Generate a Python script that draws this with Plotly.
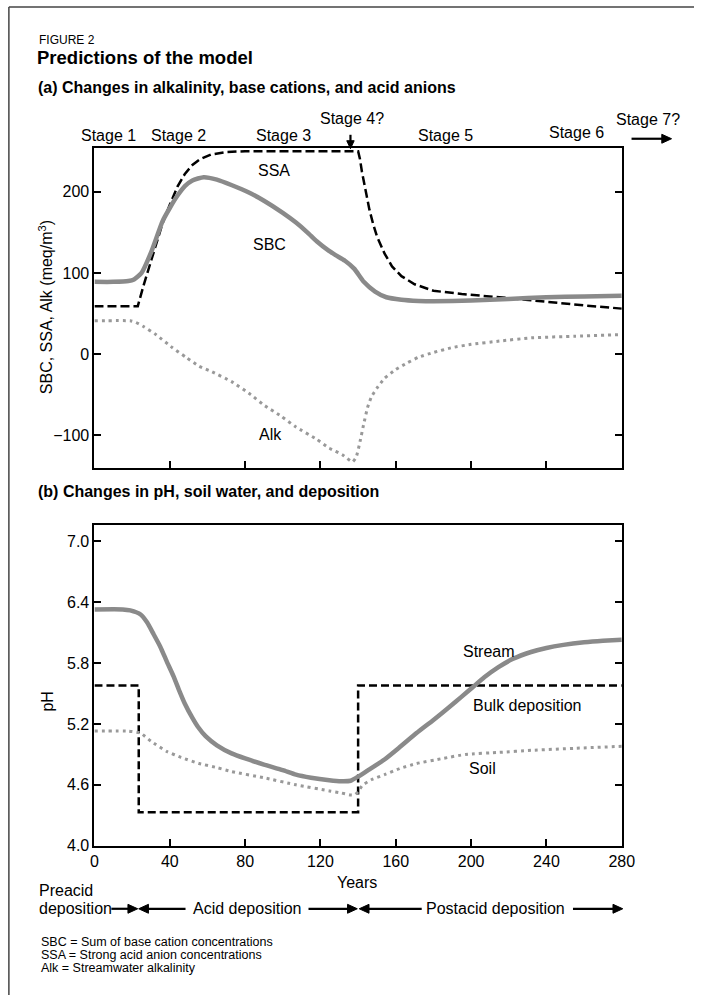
import plotly.graph_objects as go

# ---------------- data ----------------
years_sbc = [0, 10, 18, 21, 25, 30, 33, 36, 40, 44, 48, 52, 58, 65, 73, 82, 90, 100, 107,
             113, 118, 124, 128, 133, 138, 143, 149, 155, 163, 172, 180, 200, 220, 240, 260, 280]
sbc = [89, 89, 90, 92, 100, 125, 144, 163, 180, 195, 207, 214, 218, 215, 208, 199, 189, 174, 162,
       150, 139, 128, 122, 115, 105, 89, 77, 70, 67, 65.5, 65, 66, 68, 70, 71, 72]

years_ssa = [0, 23, 26, 30, 33, 36, 40, 44, 48, 52, 56, 62, 70, 80, 140, 141, 142, 144, 146, 148,
             150, 154, 158, 163, 170, 180, 195, 215, 240, 260, 280]
ssa = [59, 59, 84, 115, 136, 160, 184, 206, 222, 233, 240, 246, 249, 250, 250, 240, 225, 200, 178, 160,
       145, 124, 108, 96, 86, 78, 74, 70, 64, 60, 56]

years_alk = [0, 19, 22, 26, 32.6, 41.3, 48.6, 55.6, 62.5, 72.8, 83, 90, 98.8, 107, 118, 124.7, 131.6,
             137, 139, 141, 143, 145, 147, 150, 154, 160, 166, 172, 180, 190, 200, 215, 232, 255, 280]
alk = [41, 41, 39, 34, 24, 8, -4, -15, -22, -34, -50, -63, -76, -90, -105, -116, -124,
       -133, -127, -108, -86, -66, -53, -42, -30, -19, -11, -4, 2, 8, 12, 16, 20, 22, 24]

years_stream = [0, 15, 19, 24.5, 28, 31.4, 35, 38.3, 42, 45, 48, 52, 55, 59, 65, 72.8, 80, 90, 100,
                107, 115, 124.7, 131, 136, 140, 145, 154, 162, 171, 180, 188.6, 195, 200.7, 207,
                214.5, 222, 231.8, 240, 249, 260, 270, 280]
stream = [6.33, 6.33, 6.32, 6.28, 6.2, 6.085, 5.96, 5.82, 5.67, 5.53, 5.40, 5.26, 5.17, 5.08, 4.99,
          4.91, 4.86, 4.80, 4.745, 4.70, 4.67, 4.645, 4.635, 4.64, 4.68, 4.74, 4.85, 4.97, 5.11, 5.24,
          5.37, 5.47, 5.56, 5.66, 5.76, 5.84, 5.91, 5.95, 5.98, 6.005, 6.02, 6.03]

years_soil = [0, 18, 24.5, 30, 38.3, 46, 55.6, 65, 72.8, 90, 107, 124.7, 131, 136, 138, 140, 142,
              147, 154, 162, 171, 185, 197, 215, 232, 255, 280]
soil = [5.13, 5.13, 5.11, 5.03, 4.93, 4.87, 4.81, 4.77, 4.73, 4.67, 4.60, 4.54, 4.52, 4.50, 4.50,
        4.53, 4.59, 4.65, 4.70, 4.76, 4.81, 4.86, 4.90, 4.92, 4.94, 4.96, 4.98]

years_bulk = [0, 23.5, 23.5, 140, 140, 280]
bulk = [5.58, 5.58, 4.33, 4.33, 5.58, 5.58]

year_ticks = [0, 40, 80, 120, 160, 200, 240, 280]
conc_ticks = [-100, 0, 100, 200]
ph_ticks = [4.0, 4.6, 5.2, 5.8, 6.4, 7.0]

stage_labels = ["Stage 1", "Stage 2", "Stage 3", "Stage 4?", "Stage 5", "Stage 6", "Stage 7?"]

# ---------------- layout helpers ----------------
W, H = 707, 1004
FONT = "Liberation Sans, Arial, Helvetica, sans-serif"


def px(x):
    return x / W


def py(y):
    return 1 - y / H


GRAY = "#8a8a8a"
DOTGRAY = "#999999"

fig = go.Figure()

# top panel
fig.add_trace(go.Scatter(x=years_ssa, y=ssa, mode="lines", xaxis="x", yaxis="y",
                         line=dict(color="black", width=2.5, dash="9px,4px"), hoverinfo="skip"))
fig.add_trace(go.Scatter(x=years_sbc, y=sbc, mode="lines", xaxis="x", yaxis="y",
                         line=dict(color=GRAY, width=4.5, shape="spline", smoothing=0.5), hoverinfo="skip"))
fig.add_trace(go.Scatter(x=years_alk, y=alk, mode="lines", xaxis="x", yaxis="y",
                         line=dict(color=DOTGRAY, width=3, dash="3px,4px", shape="spline", smoothing=0.4),
                         hoverinfo="skip"))

# bottom panel
fig.add_trace(go.Scatter(x=years_bulk, y=bulk, mode="lines", xaxis="x2", yaxis="y2",
                         line=dict(color="black", width=2.5, dash="8px,4px"), hoverinfo="skip"))
fig.add_trace(go.Scatter(x=years_stream, y=stream, mode="lines", xaxis="x2", yaxis="y2",
                         line=dict(color=GRAY, width=4.5, shape="spline", smoothing=0.5), hoverinfo="skip"))
fig.add_trace(go.Scatter(x=years_soil, y=soil, mode="lines", xaxis="x2", yaxis="y2",
                         line=dict(color=DOTGRAY, width=3, dash="3px,4px", shape="spline", smoothing=0.4),
                         hoverinfo="skip"))

xdom = [px(92.7), px(633)]
axis_common = dict(showline=True, linewidth=2, linecolor="black", showgrid=False, zeroline=False,
                   ticks="inside", ticklen=7, tickwidth=1.5, tickcolor="black",
                   tickfont=dict(family=FONT, size=16, color="black"))

fig.update_layout(
    width=W, height=H, autosize=False,
    margin=dict(l=0, r=0, t=0, b=0),
    paper_bgcolor="white", plot_bgcolor="white",
    showlegend=False,
    font=dict(family=FONT, color="black"),
    xaxis=dict(domain=xdom, range=[0, 280], anchor="y", tickvals=year_ticks, showticklabels=False,
               mirror=True, **axis_common),
    yaxis=dict(domain=[py(472.7), py(149.3)], range=[-141, 254], anchor="x", tickvals=conc_ticks,
               mirror="ticks", **axis_common),
    xaxis2=dict(domain=xdom, range=[0, 280], anchor="y2", tickvals=year_ticks, mirror=True,
                **axis_common),
    yaxis2=dict(domain=[py(853.3), py(530)], range=[4.0, 7.16], anchor="x2", tickvals=ph_ticks,
                tickformat=".1f", mirror="ticks", **axis_common),
)

ann = []
shapes = []


def text(t, x, y, size=16, xanchor="center", bold=False, angle=0):
    ann.append(dict(text=("<b>%s</b>" % t) if bold else t, x=px(x), y=py(y), xref="paper", yref="paper",
                    showarrow=False, xanchor=xanchor, yanchor="middle", textangle=angle,
                    font=dict(family=FONT, size=size, color="black")))


def arrow(tip_x, tip_y, tail_x, tail_y, head=10.0, half=4.5):
    # shaft + filled triangular head, drawn as paper-referenced shapes
    dx, dy = tip_x - tail_x, tip_y - tail_y
    n = (dx * dx + dy * dy) ** 0.5
    ux, uy = dx / n, dy / n
    bx, by = tip_x - ux * head, tip_y - uy * head
    shapes.append(dict(type="line", xref="paper", yref="paper",
                       x0=px(tail_x), y0=py(tail_y), x1=px(bx + ux * 1), y1=py(by + uy * 1),
                       line=dict(color="black", width=2.2)))
    p1 = (bx - uy * half, by + ux * half)
    p2 = (bx + uy * half, by - ux * half)
    path = "M %f %f L %f %f L %f %f Z" % (px(tip_x), py(tip_y), px(p1[0]), py(p1[1]), px(p2[0]), py(p2[1]))
    shapes.append(dict(type="path", xref="paper", yref="paper", path=path,
                       fillcolor="black", line=dict(color="black", width=1)))


# titles
text("FIGURE 2", 34, 40, size=12, xanchor="left")
text("Predictions of the model", 32, 58, size=18.5, xanchor="left", bold=True)
text("(a) Changes in alkalinity, base cations, and acid anions", 33, 88, size=16, xanchor="left", bold=True)
text("(b) Changes in pH, soil water, and deposition", 33, 496, size=16, xanchor="left", bold=True)

# stage labels
stage_pos = [(107, 137), (179, 137), (286, 137), (357, 120), (452, 137), (587, 134), (660, 121)]
for lab, (sx, sy) in zip(stage_labels, stage_pos):
    text(lab, sx, sy, size=16)
arrow(355, 150, 355, 136, head=8, half=3.8)
arrow(684, 140, 643, 140)

# curve labels
text("SSA", 277, 172)
text("SBC", 272, 247)
text("Alk", 273, 438)
text("Stream", 497, 657)
text("Bulk deposition", 536, 712)
text("Soil", 490, 775)

# axis titles
text("SBC, SSA, Alk (meq/m<sup>3</sup>)", 43, 310, size=16, angle=-90)
text("pH", 45, 708, size=16, angle=-90)
text("Years", 362, 890, size=16)

# deposition phases
text("Preacid", 34, 899, size=16, xanchor="left")
text("deposition", 34, 917, size=16, xanchor="left")
arrow(137, 917, 110, 917)
arrow(138, 917, 186, 917)
text("Acid deposition", 249, 917, size=16)
arrow(362, 917, 312, 917)
arrow(364, 917, 428, 917)
text("Postacid deposition", 504, 917, size=16)
arrow(634, 917, 583, 917)

# footnotes
text("SBC = Sum of base cation concentrations", 36, 951, size=12.5, xanchor="left")
text("SSA = Strong acid anion concentrations", 36, 964, size=12.5, xanchor="left")
text("Alk = Streamwater alkalinity", 36, 977, size=12.5, xanchor="left")

# page frame (top and left rules)
shapes.append(dict(type="line", xref="paper", yref="paper", x0=px(5), x1=1, y0=py(7), y1=py(7),
                   line=dict(color="#444444", width=1.5)))
shapes.append(dict(type="line", xref="paper", yref="paper", x0=px(5), x1=px(5), y0=0, y1=py(7),
                   line=dict(color="#444444", width=1.5)))

fig.update_layout(annotations=ann, shapes=shapes)

fig.write_html("out.html",
               post_script="document.body.style.margin='0';document.body.style.overflow='hidden';")
